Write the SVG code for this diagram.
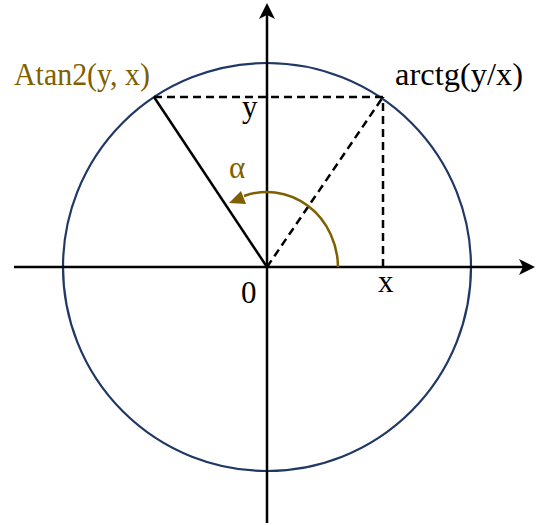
<svg xmlns="http://www.w3.org/2000/svg" width="536" height="525" viewBox="0 0 536 525">
<style>
.ax{stroke:#000;stroke-width:2.5;fill:none}
.dash{stroke:#000;stroke-width:2.5;fill:none;stroke-dasharray:8 5}
.t{font-family:"Liberation Serif","DejaVu Serif",serif;font-size:31px;fill:#000}
.g{fill:#7F6000}
</style>
<rect width="536" height="525" fill="#fff"/>
<g id="circle"><circle cx="267" cy="267" r="204" fill="none" stroke="#1F3864" stroke-width="2.2"/></g>
<g id="connectors">
<line class="ax" x1="14" y1="267" x2="524" y2="267"/>
<polygon points="535,267 519,259 523,267 519,275" fill="#000"/>
<line class="ax" x1="267" y1="523" x2="267" y2="14"/>
<polygon points="267,3 259,19 267,15 275,19" fill="#000"/>
<line class="dash" x1="154" y1="97" x2="383" y2="97"/>
<line class="dash" x1="383" y1="267" x2="383" y2="97"/>
<line class="dash" x1="267" y1="267" x2="383" y2="97"/>
<line class="ax" x1="267" y1="267" x2="154" y2="97"/>
<path d="M338,267 A71,76 0 0 0 244,196" fill="none" stroke="#7F6000" stroke-width="2.5"/>
<polygon points="229,203 246,204 241,191" fill="#7F6000"/>
</g>
<g id="labels">
<text class="t g" x="14" y="85" textLength="136" lengthAdjust="spacingAndGlyphs">Atan2(y, x)</text>
<text class="t" x="395" y="85" textLength="128" lengthAdjust="spacingAndGlyphs">arctg(y/x)</text>
<text class="t" x="242" y="117">y</text>
<text class="t" x="378" y="292">x</text>
<text class="t" x="241" y="303">0</text>
<text class="t g" x="229" y="178">α</text>
</g>
</svg>
